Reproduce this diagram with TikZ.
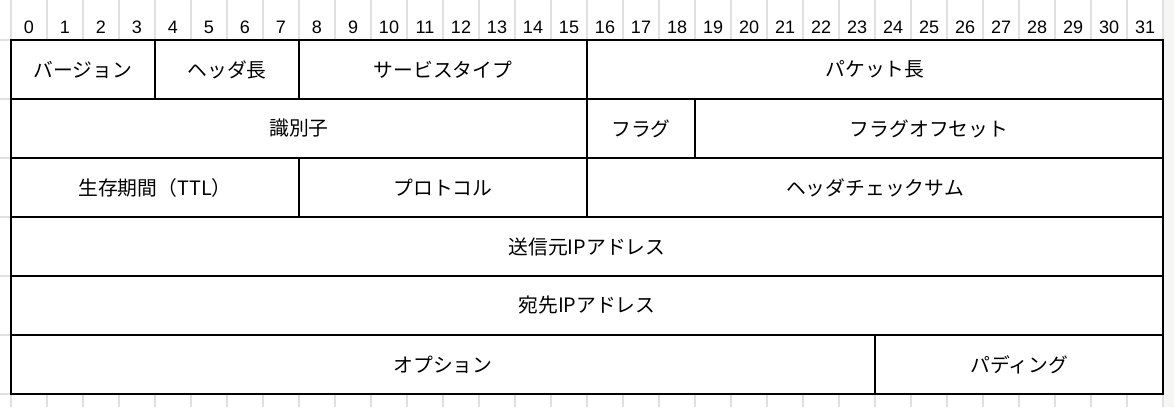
\documentclass[tikz,border=0pt]{standalone}
\usepackage{fontspec}
\setmainfont{Liberation Sans}
\newfontfamily\jp{Noto Sans CJK JP}
\definecolor{gridgray}{HTML}{E0E0E0}
\definecolor{stripcol}{HTML}{F6F7F5}
\begin{document}
\begin{tikzpicture}[x=1pt,y=-1pt,
  gridline/.style={draw=gridgray,line width=2pt},
  field/.style={draw=black,line width=2pt,minimum height=59pt,inner sep=0pt,font=\jp\fontsize{19.8}{22}\selectfont},
  bitnum/.style={anchor=base,inner sep=0pt,font=\fontsize{18}{20}\selectfont}]
\useasboundingbox (0,0) rectangle (1174,407);
\fill[white] (0,0) rectangle (1174,407);
% background grid
\foreach \i in {0,...,32} \draw[gridline] ({11+36*\i},0) -- ({11+36*\i},407);
\foreach \j in {0,...,6} \draw[gridline] (0,{40+59*\j}) -- (1174,{40+59*\j});
\fill[stripcol] (1164,0) rectangle (1174,407);
\fill[white] (11,40) rectangle (1163,394);
% bit numbers
\foreach \i in {0,...,31} \node[bitnum] (n\i) at ({29+36*\i},33) {\i};
% row 1
\node[field,minimum width=144pt] (ver) at (83,69.5) {バージョン};
\node[field,minimum width=144pt] (hlen) at (227,69.5) {ヘッダ長};
\node[field,minimum width=288pt] (tos) at (443,69.5) {サービスタイプ};
\node[field,minimum width=576pt] (plen) at (875,69.5) {パケット長};
% row 2
\node[field,minimum width=576pt] (id) at (299,128.5) {識別子};
\node[field,minimum width=108pt] (flag) at (641,128.5) {フラグ};
\node[field,minimum width=468pt] (foff) at (929,128.5) {フラグオフセット};
% row 3
\node[field,minimum width=288pt] (ttl) at (155,187.5) {生存期間（TTL）};
\node[field,minimum width=288pt] (proto) at (443,187.5) {プロトコル};
\node[field,minimum width=576pt] (csum) at (875,187.5) {ヘッダチェックサム};
% row 4
\node[field,minimum width=1152pt] (src) at (587,246.5) {送信元IPアドレス};
% row 5
\node[field,minimum width=1152pt] (dst) at (587,305.5) {宛先IPアドレス};
% row 6
\node[field,minimum width=864pt] (opt) at (443,364.5) {オプション};
\node[field,minimum width=288pt] (pad) at (1019,364.5) {パディング};
\end{tikzpicture}
\end{document}
